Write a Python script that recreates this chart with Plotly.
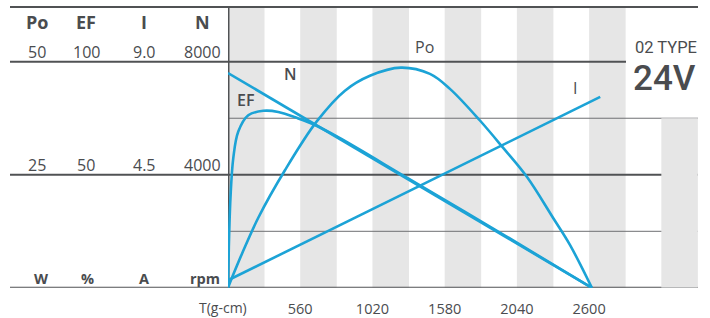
import plotly.graph_objects as go

# ---------------- data ----------------
torque_tick_vals = [520, 1040, 1560, 2080, 2600]
torque_tick_text = ["560", "1020", "1580", "2040", "2600"]

po_torque = [0, 40, 100, 218, 410, 639, 842, 1022, 1245, 1454, 1598, 1814, 1980, 2153, 2340, 2462, 2620]
po_watts = [0, 3.1, 7.5, 15.5, 26.0, 36.8, 43.6, 46.9, 48.7, 47.3, 44.0, 37.0, 31.0, 24.5, 15.5, 9.5, 0]

ef_torque = [0, 6, 18, 38, 74, 146, 254, 362, 506, 625, 800, 1300, 2000, 2620]
ef_pct = [0, 18, 40, 57.4, 69.1, 76.3, 78.3, 77.8, 74.9, 72.0, 66.4, 48.3, 22.9, 0]

n_torque = [0, 2620]
n_rpm = [7600, 0]

i_torque = [0, 2680]
i_amps = [0.3, 7.6]

po_ticks = [50, 25]
po_tick_text = ["50", "25"]
ef_ticks = [100, 50]
ef_tick_text = ["100", "50"]
i_ticks = [9.0, 4.5]
i_tick_text = ["9.0", "4.5"]
n_ticks = [8000, 4000]
n_tick_text = ["8000", "4000"]

headers = ["Po", "EF", "I", "N"]
units = ["W", "%", "A", "rpm"]
full_scale = [50, 100, 9, 8000]

# ---------------- styling ----------------
W, H = 710, 318
BLUE = "#1ca3d6"
TXT = "#4a4c4f"
DARK = "#505254"
STRIPE = "#e6e6e6"
FONT = "Open Sans"
NARROW = "Roboto"

x_dom = [228 / W, 698 / W]
y_dom = [(H - 291.5) / H, (H - 7) / H]
k = (291.5 - 7) / (291.5 - 62.5)
x_max = 3384

fig = go.Figure()
axes = ["y", "y2", "y3", "y4"]
series = [
    ("Po", po_torque, po_watts, "y"),
    ("EF", ef_torque, ef_pct, "y2"),
    ("I", i_torque, i_amps, "y3"),
    ("N", n_torque, n_rpm, "y4"),
]
for name, xs, ys, ax in series:
    fig.add_trace(go.Scatter(
        x=xs, y=ys, yaxis=ax, mode="lines", name=name,
        line=dict(color=BLUE, width=2.6, shape="spline", smoothing=1.0),
        showlegend=False, hoverinfo="skip"))

hidden = dict(showgrid=False, zeroline=False, showticklabels=False, showline=False,
              domain=y_dom, fixedrange=True)
layout_axes = {}
for i, ax in enumerate(axes):
    key = "yaxis" if i == 0 else f"yaxis{i+1}"
    d = dict(hidden, range=[0, full_scale[i] * k])
    if i > 0:
        d["overlaying"] = "y"
    layout_axes[key] = d

shapes = []
for j in range(6):
    shapes.append(dict(type="rect", xref="x", yref="paper", x0=520 * j, x1=520 * j + 263,
                       y0=y_dom[0], y1=y_dom[1], fillcolor=STRIPE, line_width=0, layer="below"))
shapes.append(dict(type="rect", xref="x", yref="y", x0=3120, x1=3383,
                   y0=0, y1=37.5, fillcolor=STRIPE, line_width=0, layer="below"))
shapes.append(dict(type="line", xref="paper", yref="paper", x0=10 / W, x1=698 / W,
                   y0=y_dom[1], y1=y_dom[1], line=dict(color=DARK, width=2), layer="below"))
shapes.append(dict(type="line", xref="paper", yref="y", x0=10 / W, x1=626 / W,
                   y0=50, y1=50, line=dict(color=DARK, width=2), layer="below"))
shapes.append(dict(type="line", xref="paper", yref="y", x0=10 / W, x1=698 / W,
                   y0=25, y1=25, line=dict(color=DARK, width=2), layer="below"))
shapes.append(dict(type="line", xref="paper", yref="y", x0=10 / W, x1=698 / W,
                   y0=0, y1=0, line=dict(color=DARK, width=2), layer="below"))
for v in (12.5, 37.5):
    shapes.append(dict(type="line", xref="paper", yref="y", x0=228 / W, x1=698 / W,
                       y0=v, y1=v, line=dict(color="#6e7072", width=1), layer="below"))
shapes.append(dict(type="line", xref="x", yref="paper", x0=0, x1=0,
                   y0=y_dom[0], y1=y_dom[1], line=dict(color=DARK, width=3), layer="below"))

ann = []
col_x = [37, 86, 144, 202]
unit_x = [41, 87, 144, 205]
tick_sets = [(po_ticks, po_tick_text), (ef_ticks, ef_tick_text),
             (i_ticks, i_tick_text), (n_ticks, n_tick_text)]
for i, (vals, texts) in enumerate(tick_sets):
    for v, t in zip(vals, texts):
        ann.append(dict(x=col_x[i] / W, xref="paper", y=v, yref=axes[i], text=t,
                        showarrow=False, yshift=10, xanchor="center", yanchor="middle",
                        font=dict(family=FONT, size=16, color=TXT)))
    ann.append(dict(x=unit_x[i] / W, xref="paper", y=0, yref=axes[i], text=units[i],
                    showarrow=False, yshift=9, xanchor="center", yanchor="middle",
                    font=dict(family=FONT, size=14.5, color=TXT, weight="bold")))
    ann.append(dict(x=col_x[i] / W, xref="paper", y=(H - 22) / H, yref="paper", text=headers[i],
                    showarrow=False, xanchor="center", yanchor="middle",
                    font=dict(family=FONT, size=18, color=TXT, weight="bold")))

curve_labels = [("Po", 424, 48, 400), ("N", 290, 75, 600), ("EF", 245, 101.5, 600), ("I", 575, 89, 400)]
for t, px, py, wt in curve_labels:
    ann.append(dict(x=px / W, xref="paper", y=(H - py) / H, yref="paper", text=t,
                    showarrow=False, xanchor="center", yanchor="middle",
                    font=dict(family=FONT, size=16, color=TXT, weight=wt)))

ann.append(dict(x=0, xref="x", y=y_dom[0], yref="paper", text="T(g-cm)", showarrow=False,
                xanchor="center", yanchor="top", xshift=-5, yshift=-8,
                font=dict(family=FONT, size=14, color=TXT)))
ann.append(dict(x=633 / W, xref="paper", y=(H - 48.5) / H, yref="paper", text="02 TYPE",
                showarrow=False, xanchor="left", yanchor="middle",
                font=dict(family=NARROW, size=16.5, color=TXT, weight=400)))
ann.append(dict(x=631 / W, xref="paper", y=(H - 79) / H, yref="paper", text="24V",
                showarrow=False, xanchor="left", yanchor="middle",
                font=dict(family=NARROW, size=35, color=TXT, weight=500)))

fig.update_layout(
    width=W, height=H, margin=dict(l=0, r=0, t=0, b=0),
    paper_bgcolor="white", plot_bgcolor="white",
    xaxis=dict(domain=x_dom, range=[0, x_max], showgrid=False, zeroline=False, showline=False,
               tickmode="array", tickvals=torque_tick_vals, ticktext=torque_tick_text,
               ticks="outside", ticklen=8, tickcolor="rgba(0,0,0,0)",
               tickfont=dict(family=FONT, size=14.5, color=TXT), fixedrange=True),
    shapes=shapes, annotations=ann,
    **layout_axes,
)

fig.write_html("out.html", config={"displayModeBar": False},
               post_script="document.body.style.margin='0px';document.body.style.padding='0px';")
